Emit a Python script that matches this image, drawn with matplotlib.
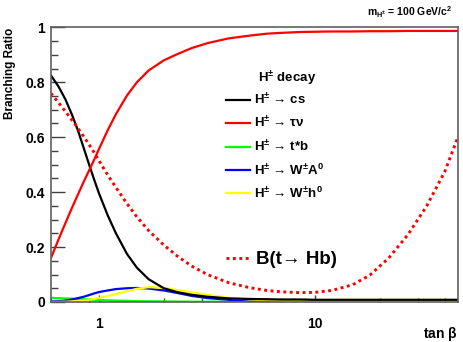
import numpy as np
import matplotlib
matplotlib.use("Agg")
import matplotlib.pyplot as plt
from matplotlib.lines import Line2D
from matplotlib.ticker import LogLocator, FixedLocator, FixedFormatter, MultipleLocator, NullFormatter

plt.rcParams['font.family'] = ['Liberation Sans', 'DejaVu Sans']
plt.rcParams['font.weight'] = 'bold'
plt.rcParams['mathtext.fontset'] = 'custom'
plt.rcParams['mathtext.rm'] = 'Liberation Sans:bold'
plt.rcParams['mathtext.bf'] = 'Liberation Sans:bold'
plt.rcParams['mathtext.it'] = 'Liberation Sans'

# tan(beta) grid
tanb = [0.6, 0.65, 0.7, 0.75, 0.8, 0.85, 0.9, 0.95, 1.0, 1.1, 1.2, 1.35, 1.5, 1.7,
        2.0, 2.3, 2.7, 3.2, 4, 5, 6, 7, 8.5, 10, 12, 15, 18, 22, 27, 33, 40, 46]

br_cs = [0.825, 0.785, 0.738, 0.683, 0.625, 0.562, 0.502, 0.447, 0.397, 0.315, 0.25, 0.175, 0.125, 0.083,
         0.05, 0.036, 0.026, 0.019, 0.013, 0.011, 0.010, 0.009, 0.009, 0.008, 0.008, 0.008,
         0.008, 0.008, 0.008, 0.008, 0.008, 0.008]
br_taunu = [0.16, 0.227, 0.287, 0.342, 0.391, 0.437, 0.478, 0.517, 0.556, 0.626, 0.684, 0.752, 0.80, 0.843,
            0.88, 0.902, 0.925, 0.943, 0.960, 0.970, 0.977, 0.980, 0.983, 0.984, 0.985, 0.985,
            0.986, 0.986, 0.987, 0.987, 0.987, 0.987]
br_tstarb = [0.015, 0.014, 0.013, 0.012, 0.011, 0.010, 0.009, 0.008, 0.007, 0.006, 0.005, 0.004, 0.003, 0.0025,
             0.002, 0.0015, 0.001, 0.001, 0.001, 0.001, 0.001, 0.001, 0.001, 0.001, 0.001, 0.001,
             0.001, 0.001, 0.001, 0.001, 0.001, 0.001]
br_WA = [0.002, 0.003, 0.005, 0.009, 0.014, 0.019, 0.025, 0.031, 0.036, 0.042, 0.047, 0.05, 0.051, 0.049,
         0.042, 0.033, 0.022, 0.014, 0.008, 0.005, 0.003, 0.002, 0.001, 0.001, 0.001, 0.001,
         0.001, 0.001, 0.001, 0.001, 0.001, 0.001]
br_Wh = [0.0, 0.0005, 0.001, 0.002, 0.003, 0.005, 0.008, 0.011, 0.015, 0.022, 0.029, 0.039, 0.048, 0.054,
         0.051, 0.044, 0.035, 0.026, 0.015, 0.009, 0.006, 0.004, 0.003, 0.003, 0.003, 0.002,
         0.002, 0.002, 0.002, 0.002, 0.002, 0.002]
br_t_Hb = [0.76, 0.726, 0.694, 0.663, 0.633, 0.603, 0.574, 0.545, 0.515, 0.462, 0.417, 0.358, 0.31, 0.26,
           0.207, 0.168, 0.13, 0.099, 0.07, 0.052, 0.042, 0.037, 0.034, 0.035, 0.042, 0.063,
           0.098, 0.16, 0.245, 0.35, 0.475, 0.60]

fig = plt.figure(figsize=(4.63, 3.42), dpi=100)
ax = fig.add_axes([0.110, 0.117, 0.879, 0.803])

lw = 1.6
ax.plot(tanb, br_tstarb, color='#00ff00', lw=lw)
ax.plot(tanb, br_WA, color='#0000ff', lw=lw)
ax.plot(tanb, br_Wh, color='#ffff00', lw=lw)
ax.plot(tanb, br_cs, color='black', lw=lw)
ax.plot(tanb, br_taunu, color='#ff0000', lw=lw)
ax.plot(tanb, br_t_Hb, color='#ff0000', lw=2.1, dashes=(1, 1.2))

ax.set_xscale('log')
ax.set_xlim(0.6, 46)
ax.set_ylim(0, 1)

ax.xaxis.set_major_locator(FixedLocator([1, 10]))
ax.xaxis.set_major_formatter(FixedFormatter(['1', '10']))
ax.xaxis.set_minor_locator(LogLocator(base=10, subs=np.arange(2, 10), numticks=20))
ax.xaxis.set_minor_formatter(NullFormatter())
ax.yaxis.set_major_locator(MultipleLocator(0.2))
ax.yaxis.set_major_formatter(matplotlib.ticker.FuncFormatter(lambda v, p: '%g' % round(v, 1)))
ax.yaxis.set_minor_locator(MultipleLocator(0.05))

ax.tick_params(axis='y', which='major', direction='in', length=10, width=1, labelsize=10, pad=4, color='#404040')
ax.tick_params(axis='y', which='minor', direction='in', length=5, width=1, color='#404040')
ax.tick_params(axis='x', which='major', direction='in', length=5, width=1, labelsize=10, pad=11, color='#404040')
ax.tick_params(axis='x', which='minor', direction='in', length=3, width=1, color='#404040')

for s in ax.spines.values():
    s.set_color('#606060')
    s.set_linewidth(1.2)

ax.set_ylabel('Branching Ratio', loc='top', fontsize=8.5, fontweight='bold', labelpad=7)
ax.set_xlabel(r'tan $\beta$', fontsize=10, fontweight='bold', ha='right', va='top')
ax.xaxis.set_label_coords(1.0, -0.082)

fig.text(0.977, 0.965, r'm$_{\mathrm{H}^{\pm}}$ = 100 GeV/c$^{2}$', ha='right', va='center',
         fontsize=7.5, fontweight='bold')

# legend
ax.text(0.509, 0.812, r'H$^{\pm}$ decay', transform=ax.transAxes, fontsize=9.5, va='center', ha='left')
handles = [Line2D([], [], color='black', lw=lw),
           Line2D([], [], color='#ff0000', lw=lw),
           Line2D([], [], color='#00ff00', lw=lw),
           Line2D([], [], color='#0000ff', lw=lw),
           Line2D([], [], color='#ffff00', lw=lw)]
labels = [r'H$^{\pm}$ → cs',
          r'H$^{\pm}$ → $\tau\nu$',
          r'H$^{\pm}$ → t*b',
          r'H$^{\pm}$ → W$^{\pm}$A$^{0}$',
          r'H$^{\pm}$ → W$^{\pm}$h$^{0}$']
leg1 = ax.legend(handles, labels, loc='upper left', bbox_to_anchor=(0.43, 0.765),
                 frameon=False, fontsize=9.5, handlelength=1.8, handletextpad=0.35,
                 labelspacing=0.62, borderpad=0, borderaxespad=0)
ax.add_artist(leg1)
ax.legend([Line2D([], [], color='#ff0000', lw=2.1, dashes=(1, 1.2))],
          ['B(t→ Hb)'], loc='upper left', bbox_to_anchor=(0.43, 0.185),
          frameon=False, fontsize=13.5, handlelength=1.3, handletextpad=0.3,
          borderpad=0, borderaxespad=0)

fig.savefig('out.png', dpi=100)
